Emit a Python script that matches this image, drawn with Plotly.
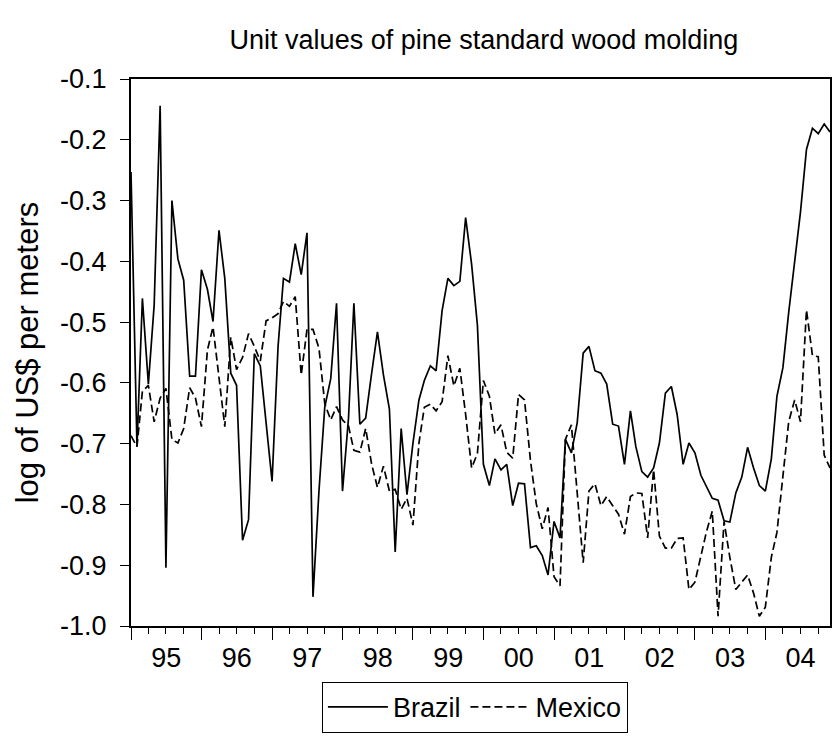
import pandas as pd
import plotly.graph_objects as go

dates = pd.date_range("1995-01-01", periods=120, freq="MS")

brazil = [
    -0.253, -0.705, -0.461, -0.602, -0.472, -0.144, -0.904, -0.300, -0.396, -0.431, -0.589, -0.589,
    -0.414, -0.446, -0.499, -0.349, -0.428, -0.584, -0.604, -0.859, -0.825, -0.552, -0.572, -0.666,
    -0.762, -0.540, -0.428, -0.434, -0.371, -0.422, -0.353, -0.952, -0.778, -0.640, -0.593, -0.469,
    -0.778, -0.658, -0.469, -0.668, -0.658, -0.584, -0.516, -0.587, -0.643, -0.878, -0.675, -0.784,
    -0.699, -0.628, -0.596, -0.572, -0.580, -0.481, -0.428, -0.440, -0.433, -0.328, -0.405, -0.505,
    -0.734, -0.769, -0.725, -0.743, -0.734, -0.802, -0.765, -0.766, -0.871, -0.868, -0.884, -0.916,
    -0.828, -0.855, -0.693, -0.715, -0.666, -0.551, -0.540, -0.580, -0.584, -0.602, -0.668, -0.671,
    -0.734, -0.646, -0.705, -0.746, -0.755, -0.740, -0.699, -0.617, -0.606, -0.652, -0.734, -0.699,
    -0.715, -0.752, -0.769, -0.790, -0.793, -0.827, -0.829, -0.781, -0.755, -0.706, -0.740, -0.769,
    -0.778, -0.725, -0.622, -0.575, -0.484, -0.399, -0.319, -0.216, -0.181, -0.190, -0.174, -0.187,
]

mexico = [
    -0.687, -0.705, -0.614, -0.604, -0.664, -0.625, -0.609, -0.693, -0.699, -0.675, -0.608, -0.625,
    -0.672, -0.546, -0.508, -0.590, -0.672, -0.525, -0.578, -0.558, -0.519, -0.540, -0.564, -0.498,
    -0.493, -0.486, -0.466, -0.474, -0.458, -0.587, -0.512, -0.512, -0.543, -0.634, -0.661, -0.639,
    -0.661, -0.671, -0.711, -0.714, -0.675, -0.734, -0.772, -0.737, -0.778, -0.775, -0.808, -0.790,
    -0.834, -0.699, -0.640, -0.635, -0.646, -0.631, -0.555, -0.605, -0.576, -0.652, -0.740, -0.716,
    -0.596, -0.622, -0.684, -0.669, -0.714, -0.724, -0.619, -0.628, -0.728, -0.799, -0.840, -0.805,
    -0.919, -0.934, -0.693, -0.669, -0.778, -0.896, -0.778, -0.766, -0.802, -0.787, -0.802, -0.816,
    -0.849, -0.787, -0.781, -0.782, -0.855, -0.743, -0.852, -0.872, -0.872, -0.856, -0.855, -0.940,
    -0.928, -0.887, -0.846, -0.811, -0.984, -0.828, -0.887, -0.940, -0.928, -0.916, -0.946, -0.984,
    -0.969, -0.887, -0.846, -0.752, -0.664, -0.628, -0.664, -0.480, -0.555, -0.557, -0.719, -0.740,
]

y_tickvals = [-1.0, -0.9, -0.8, -0.7, -0.6, -0.5, -0.4, -0.3, -0.2, -0.1]
y_ticktext = ["-1.0", "-0.9", "-0.8", "-0.7", "-0.6", "-0.5", "-0.4", "-0.3", "-0.2", "-0.1"]

FONT = "Liberation Sans, Arial, sans-serif"
FS = 27

fig = go.Figure()
fig.add_trace(go.Scatter(x=dates, y=brazil, mode="lines", name="Brazil",
                         line=dict(color="black", width=1.7)))
fig.add_trace(go.Scatter(x=dates, y=mexico, mode="lines", name="Mexico",
                         line=dict(color="black", width=1.7, dash="8px,4px")))

fig.update_layout(
    width=833, height=751,
    margin=dict(l=131, r=1, t=79, b=125),
    paper_bgcolor="white", plot_bgcolor="white",
    font=dict(family=FONT, color="black", size=FS),
    title=dict(text="Unit values of pine standard wood molding",
               x=0.505, xref="paper", xanchor="center",
               y=1 - 40 / 751, yref="container", yanchor="middle",
               font=dict(family=FONT, size=FS, color="black")),
    showlegend=True,
    legend=dict(orientation="h", x=0.492, xanchor="center", y=-0.102, yanchor="top",
                bordercolor="black", borderwidth=1, bgcolor="white",
                font=dict(family=FONT, size=FS, color="black"),
                itemwidth=60, tracegroupgap=0),
)

fig.update_xaxes(
    type="date",
    range=["1995-01-01", "2004-12-01"],
    tick0="1995-01-01", dtick="M12", tickformat="%y", ticklabelmode="period",
    ticks="outside", ticklen=12, tickwidth=1, tickcolor="black",
    minor=dict(dtick="M3", ticks="outside", ticklen=6, tickwidth=1, tickcolor="black", showgrid=False),
    showline=True, linewidth=2, linecolor="black", mirror=True,
    showgrid=False, zeroline=False,
    tickfont=dict(family=FONT, size=FS, color="black"),
    ticklabelstandoff=-5,
)

fig.update_yaxes(
    range=[-1.0, -0.1],
    tickmode="array", tickvals=y_tickvals, ticktext=y_ticktext,
    ticks="outside", ticklen=9, tickwidth=1, tickcolor="black",
    showline=True, linewidth=2, linecolor="black", mirror=True,
    showgrid=False, zeroline=False,
    tickfont=dict(family=FONT, size=FS, color="black"),
    ticklabelstandoff=8,
    title=dict(text="log of US$ per meters", standoff=12,
               font=dict(family=FONT, size=31, color="black")),
)

# put the figure at the very top-left of the page, with no scroll bars
page_css = ("document.body.style.margin='0';"
            "document.body.style.padding='0';"
            "document.body.style.overflow='hidden';"
            "document.documentElement.style.overflow='hidden';")
fig.write_html("out.html", post_script=page_css,
               config={"displayModeBar": False, "staticPlot": True})
